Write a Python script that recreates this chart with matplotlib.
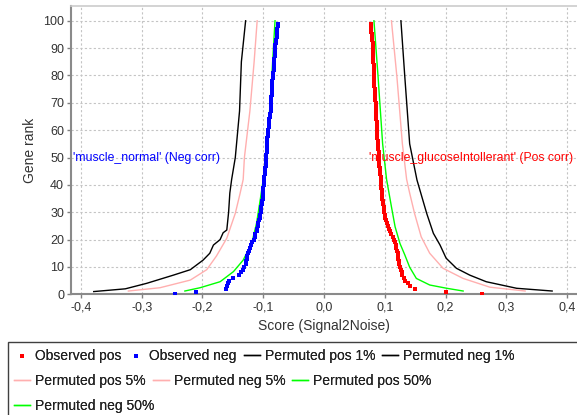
import numpy as np
import matplotlib
matplotlib.use("Agg")
import matplotlib.pyplot as plt
from matplotlib.patches import Rectangle
from matplotlib.ticker import FuncFormatter

plt.rcParams["font.family"] = ["Liberation Sans", "DejaVu Sans"]

# observed scores, one per gene rank (0..99)
obs_pos = [0.260, 0.200, 0.150, 0.142, 0.138, 0.134, 0.131, 0.129, 0.128, 0.127,
           0.125, 0.124, 0.123, 0.122, 0.122, 0.121, 0.120, 0.119, 0.119, 0.117,
           0.115, 0.113, 0.111, 0.109, 0.107, 0.105, 0.104, 0.102, 0.101, 0.100,
           0.099, 0.099, 0.098, 0.097, 0.097, 0.096, 0.096, 0.095, 0.095, 0.094,
           0.094, 0.093, 0.093, 0.093, 0.092, 0.092, 0.092, 0.091, 0.091, 0.091,
           0.090, 0.090, 0.090, 0.089, 0.089, 0.089, 0.089, 0.088, 0.088, 0.088,
           0.088, 0.087, 0.087, 0.087, 0.086, 0.086, 0.086, 0.085, 0.085, 0.085,
           0.085, 0.084, 0.084, 0.084, 0.084, 0.084, 0.083, 0.083, 0.083, 0.083,
           0.083, 0.082, 0.082, 0.082, 0.082, 0.081, 0.081, 0.081, 0.081, 0.080,
           0.080, 0.080, 0.080, 0.079, 0.079, 0.079, 0.078, 0.078, 0.077, 0.077]
obs_neg = [-0.246, -0.211, -0.161, -0.160, -0.158, -0.156, -0.150, -0.140, -0.136, -0.133,
           -0.131, -0.129, -0.128, -0.127, -0.126, -0.125, -0.123, -0.121, -0.120, -0.118,
           -0.116, -0.114, -0.113, -0.111, -0.110, -0.109, -0.108, -0.107, -0.106, -0.105,
           -0.104, -0.104, -0.103, -0.102, -0.102, -0.101, -0.101, -0.100, -0.100, -0.100,
           -0.099, -0.099, -0.098, -0.098, -0.097, -0.097, -0.097, -0.096, -0.096, -0.095,
           -0.095, -0.095, -0.094, -0.094, -0.094, -0.093, -0.093, -0.093, -0.092, -0.092,
           -0.092, -0.091, -0.091, -0.090, -0.090, -0.089, -0.089, -0.088, -0.088, -0.088,
           -0.087, -0.087, -0.087, -0.086, -0.086, -0.086, -0.085, -0.085, -0.085, -0.084,
           -0.084, -0.084, -0.083, -0.083, -0.082, -0.082, -0.082, -0.081, -0.081, -0.081,
           -0.080, -0.080, -0.079, -0.079, -0.078, -0.078, -0.077, -0.077, -0.076, -0.076]
obs_rank = list(range(len(obs_pos)))

# permuted percentiles (rank, score)
pos1_rank = [1.2, 2.2, 4.6, 7, 9.5, 13.2, 18, 22.3, 29.6, 35.7, 41.8, 55, 79.5, 100]
pos1_score = [0.3755, 0.317, 0.267, 0.240, 0.218, 0.201, 0.191, 0.180, 0.169, 0.161,
              0.153, 0.141, 0.133, 0.1266]
neg1_rank = [1, 2, 4, 7, 9, 12.5, 15, 18, 20, 22.5, 23.5, 30, 37, 42, 50, 67, 85, 100]
neg1_score = [-0.379, -0.327, -0.292, -0.248, -0.220, -0.199, -0.188, -0.182, -0.171,
              -0.166, -0.160, -0.157, -0.155, -0.152, -0.146, -0.139, -0.136, -0.129]
pos5_rank = [1.2, 2.6, 5.8, 9.5, 15, 21, 29.6, 37, 42, 55, 79.5, 100]
pos5_score = [0.331, 0.273, 0.229, 0.196, 0.174, 0.160, 0.149, 0.141, 0.136, 0.129,
              0.120, 0.111]
neg5_rank = [1.2, 2.4, 5.2, 9, 14, 20.5, 29.6, 37, 42, 50, 67, 85, 100]
neg5_score = [-0.322, -0.270, -0.220, -0.193, -0.177, -0.160, -0.146, -0.138, -0.133,
              -0.131, -0.122, -0.115, -0.110]
pos50_rank = [1.2, 2.2, 3.4, 5.8, 9.9, 14.4, 18.6, 24.7, 32, 42, 55, 79.5, 100]
pos50_score = [0.229, 0.202, 0.174, 0.152, 0.141, 0.133, 0.125, 0.117, 0.111, 0.103,
               0.0965, 0.089, 0.0822]
neg50_rank = [1.2, 2.4, 4.6, 8.3, 12.5, 18.6, 26, 34.5, 42, 55, 79.5, 100]
neg50_score = [-0.229, -0.204, -0.171, -0.149, -0.133, -0.119, -0.111, -0.105, -0.100,
               -0.093, -0.086, -0.0806]

x_ticks = [-0.4, -0.3, -0.2, -0.1, 0.0, 0.1, 0.2, 0.3, 0.4]
y_ticks = [0, 10, 20, 30, 40, 50, 60, 70, 80, 90, 100]

fig = plt.figure(figsize=(5.77, 4.15), dpi=100)
ax = fig.add_axes([71 / 577, 120.7 / 415, 506 / 577, 288.3 / 415])

lw = 1.0
h_p1, = ax.plot(pos1_score, pos1_rank, color="black", lw=lw, label="Permuted pos 1%")
h_n1, = ax.plot(neg1_score, neg1_rank, color="black", lw=lw, label="Permuted neg 1%")
h_p5, = ax.plot(pos5_score, pos5_rank, color="#ffafaf", lw=lw, label="Permuted pos 5%")
h_n5, = ax.plot(neg5_score, neg5_rank, color="#ffafaf", lw=lw, label="Permuted neg 5%")
h_p50, = ax.plot(pos50_score, pos50_rank, color="#00ff00", lw=lw, label="Permuted pos 50%")
h_n50, = ax.plot(neg50_score, neg50_rank, color="#00ff00", lw=lw, label="Permuted neg 50%")
h_op = ax.scatter(obs_pos, obs_rank, marker="s", s=6, color="#ff0000", lw=0,
                  label="Observed pos", zorder=3)
h_on = ax.scatter(obs_neg, obs_rank, marker="s", s=6, color="#0000ff", lw=0,
                  label="Observed neg", zorder=3)

ax.text(-0.413, 50, "'muscle_normal' (Neg corr)", color="#0000ff", fontsize=8.8,
        va="center", ha="left")
ax.text(0.074, 50, "'muscle_glucoseIntollerant' (Pos corr)", color="#ff0000",
        fontsize=8.8, va="center", ha="left")

ax.set_xlim(-0.4164, 0.4164)
ax.set_ylim(0, 105.4)
ax.set_xticks(x_ticks)
ax.set_yticks(y_ticks)
ax.xaxis.set_major_formatter(FuncFormatter(lambda v, p: f"{round(v, 1):.1f}".replace(".", ",").replace("-0,0", "0,0")))
ax.tick_params(labelsize=9, labelcolor="#333333", color="#808080", length=3, width=1, pad=2)
ax.grid(True, color="#c4c4c4", linestyle=(0, (2, 2)), lw=0.8)
ax.set_axisbelow(True)
for s in ["left", "bottom"]:
    ax.spines[s].set_color("#8a8a8a")
    ax.spines[s].set_linewidth(1.5)
ax.spines["top"].set_color("#cccccc")
ax.spines["top"].set_linewidth(1.2)
ax.spines["right"].set_visible(False)

ax.set_xlabel("Score (Signal2Noise)", fontsize=10, color="#333333")
ax.set_ylabel("Gene rank", fontsize=10, color="#333333")
ax.xaxis.set_label_coords(0.5, -0.086)
ax.yaxis.set_label_coords(-0.068, 0.5)

# legend box, rows laid out like a flow layout
fig.add_artist(Rectangle((8 / 577, -0.05), 1.0, 0.05 + 1 - 342 / 415,
                         transform=fig.transFigure, fill=False,
                         edgecolor="#404040", lw=1, clip_on=False))
rows = [[h_op, h_on, h_p1, h_n1], [h_p5, h_n5, h_p50], [h_n50]]
row_y = [356, 381, 406]
for handles, y in zip(rows, row_y):
    leg = fig.legend(handles=handles, loc="center left",
                     bbox_to_anchor=(14 / 577, 1 - y / 415), ncol=len(handles),
                     frameon=False, fontsize=10, borderpad=0, borderaxespad=0,
                     handlelength=1.15, handletextpad=0.36, columnspacing=0.5,
                     scatterpoints=1, markerscale=1.2)
    for t in leg.get_texts():
        t.set_color("#222222")
    fig.add_artist(leg)

fig.savefig("out.png", dpi=100)
